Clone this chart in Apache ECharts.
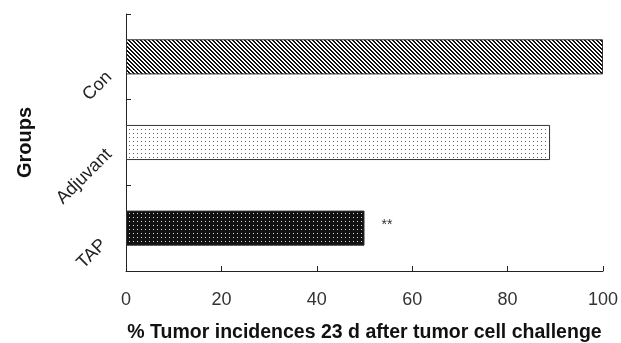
<!DOCTYPE html>
<html lang="en">
    <head>
        <title>Tumor incidence</title>
        <meta charset="utf-8">
        <script src='https://cdn.jsdelivr.net/npm/echarts@6/dist/echarts.min.js'></script>
    </head>

    <style>
        html, body, #main {
            width: 621px;
            height: 343px;
            margin: 0;
            background: #fff;
        }
    </style>

    <body>
        <div id='main'></div>

        <script>
            // bottom to top, as the category axis draws them
            const groups = ['TAP', 'Adjuvant', 'Con'];
            const incidence = [50, 88.9, 100];
            const marks = ['**', '', ''];
            const xTicks = [0, 20, 40, 60, 80, 100];

            // small pixel tiles for the Excel-like fills
            makeTile = (draw) => {
                const c = document.createElement('canvas');
                c.width = 4;
                c.height = 4;
                const ctx = c.getContext('2d');
                draw(ctx);
                return c;
            }

            const hatch = makeTile(ctx => {
                ctx.fillStyle = '#fff';
                ctx.fillRect(0, 0, 4, 4);
                ctx.fillStyle = '#111';
                for (let y = 0; y < 4; y++) {
                    ctx.fillRect(y % 4, y, 1, 1);
                    ctx.fillRect((y + 1) % 4, y, 1, 1);
                }
            });

            const lightDots = makeTile(ctx => {
                ctx.fillStyle = '#fff';
                ctx.fillRect(0, 0, 4, 4);
                ctx.fillStyle = '#666';
                ctx.fillRect(1, 1, 1, 1);
            });

            const darkDots = makeTile(ctx => {
                ctx.fillStyle = '#111';
                ctx.fillRect(0, 0, 4, 4);
                ctx.fillStyle = '#ddd';
                ctx.fillRect(1, 1, 1, 1);
            });

            const fills = [darkDots, lightDots, hatch];

            const font = 'Liberation Sans, Arial, sans-serif';

            // nudges for the slanted group labels (Excel places them a bit lower)
            const labelStyle = {
                fontFamily: font,
                fontSize: 18,
                color: '#222'
            };

            const chart = echarts.init(document.getElementById('main'));

            const option = {
                animation: false,
                grid: {
                    left: 126,
                    right: 18,
                    top: 14,
                    bottom: 72,
                    containLabel: false,
                    outerBoundsMode: 'none'
                },
                xAxis: {
                    type: 'value',
                    min: xTicks[0],
                    max: xTicks[xTicks.length - 1],
                    interval: 20,
                    name: '% Tumor incidences 23 d after tumor cell challenge',
                    nameLocation: 'middle',
                    nameGap: 52,
                    nameTextStyle: {
                        fontFamily: font,
                        fontSize: 19.5,
                        fontWeight: 'bold',
                        color: '#111'
                    },
                    splitLine: { show: false },
                    axisLine: { show: true, lineStyle: { color: '#222', width: 1 } },
                    axisTick: { show: true, inside: true, length: 5, lineStyle: { color: '#222' } },
                    axisLabel: {
                        margin: 20,
                        fontFamily: font,
                        fontSize: 18,
                        color: '#333'
                    }
                },
                yAxis: {
                    type: 'category',
                    data: groups,
                    name: 'Groups',
                    nameLocation: 'middle',
                    nameGap: 91,
                    nameRotate: 90,
                    nameTextStyle: {
                        fontFamily: font,
                        fontSize: 20,
                        fontWeight: 'bold',
                        color: '#111'
                    },
                    axisLine: { show: true, lineStyle: { color: '#222', width: 1 } },
                    axisTick: { show: true, inside: true, length: 5, lineStyle: { color: '#222' } },
                    axisLabel: {
                        rotate: 45,
                        margin: 12,
                        formatter: v => '{' + (v === 'Con' ? 'c' : v === 'TAP' ? 't' : 'a') + '|' + v + '}',
                        rich: {
                            c: Object.assign({ padding: [18, 16, 0, 0] }, labelStyle),
                            a: Object.assign({ padding: [6, 10, 0, 0] }, labelStyle),
                            t: Object.assign({ padding: [5, 17, 0, 0] }, labelStyle)
                        }
                    }
                },
                series: [ {
                    type: 'bar',
                    barWidth: '41%',
                    data: incidence.map((v, i) => ({
                        value: v,
                        itemStyle: {
                            color: { image: fills[i], repeat: 'repeat' },
                            borderColor: '#333',
                            borderWidth: 1
                        },
                        label: {
                            show: marks[i] !== '',
                            position: 'right',
                            distance: 17,
                            offset: [0, -3],
                            formatter: marks[i],
                            fontFamily: font,
                            fontSize: 14,
                            color: '#333'
                        }
                    }))
                } ]
            };

            chart.setOption(option);
        </script>
    </body>
</html>
